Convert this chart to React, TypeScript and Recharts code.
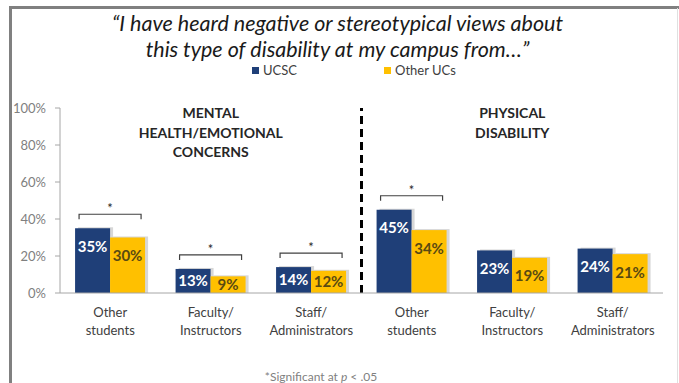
import React from 'react';
import { BarChart, Bar, XAxis, YAxis, ReferenceLine, LabelList, Legend } from 'recharts';

const FONT = 'Lato, "Open Sans", sans-serif';

const categoryIds = ['mh-students', 'mh-faculty', 'mh-staff', 'pd-students', 'pd-faculty', 'pd-staff'];
const categoryLabels = [
  'Other\nstudents',
  'Faculty/\nInstructors',
  'Staff/\nAdministrators',
  'Other\nstudents',
  'Faculty/\nInstructors',
  'Staff/\nAdministrators',
];
const ucscValues = [35, 13, 14, 45, 23, 24];
const otherUCsValues = [30, 9, 12, 34, 19, 21];
const significant = [true, true, true, true, false, false];
const yTicks = [0, 20, 40, 60, 80, 100];
const seriesNames = ['UCSC', 'Other UCs'];
const groupTitles = [
  { anchor: 'mh-faculty', lines: ['MENTAL', 'HEALTH/EMOTIONAL', 'CONCERNS'] },
  { anchor: 'pd-faculty', lines: ['PHYSICAL', 'DISABILITY'] },
];
const dividerAt = 'pd-students';
const titleLines = ['\u201CI have heard negative or stereotypical views about', 'this type of disability at my campus from\u2026\u201D'];

const NAVY = '#1f3f78';
const GOLD = '#ffc000';

const data = categoryIds.map((id, i) => ({
  id,
  ucsc: ucscValues[i],
  other: otherUCsValues[i],
}));

const CategoryTick = (props: any) => {
  const { x, y, payload } = props;
  const idx = categoryIds.indexOf(payload.value);
  const lines = (categoryLabels[idx] || '').split('\n');
  return (
    <text x={x} y={y} textAnchor="middle" fill="#404040" fontSize={13} fontFamily={FONT}>
      {lines.map((l, i) => (
        <tspan key={i} x={x} dy={i === 0 ? 22 : 18}>
          {l}
        </tspan>
      ))}
    </text>
  );
};

const ShadowBar = (props: any) => {
  const { x, y, width, height, fill } = props;
  if (height == null || width == null) return null;
  return (
    <g>
      <rect x={x + 3} y={y - 1} width={width} height={height + 1} fill="#bdbdbd" opacity={0.6} />
      <rect x={x} y={y} width={width} height={height} fill={fill} />
    </g>
  );
};

const makeValueLabel = (color: string) => (props: any) => {
  const { x, y, width, height, value } = props;
  if (value == null) return null;
  const cy = Math.min(y + 18, y + height / 2);
  return (
    <text
      x={x + width / 2}
      y={cy}
      dy="0.36em"
      textAnchor="middle"
      fill={color}
      fontSize={15}
      fontWeight="bold"
      fontFamily={FONT}
    >
      {`${value}%`}
    </text>
  );
};

const Bracket = (props: any) => {
  const { x, y, width, height, value, index } = props;
  if (!significant[index] || !value) return null;
  const base = y + height;
  const perUnit = height / value;
  const topVal = Math.max(ucscValues[index], otherUCsValues[index]);
  const topY = base - topVal * perUnit;
  const by = topY - 14;
  const x1 = x + 4;
  const x2 = x + 2 * width - 4;
  return (
    <g>
      <path d={`M${x1},${by + 5}V${by}H${x2}V${by + 5}`} stroke="#404040" strokeWidth={1.2} fill="none" />
      <text x={(x1 + x2) / 2} y={by - 1} textAnchor="middle" fontSize={13} fill="#262626" fontFamily={FONT}>
        *
      </text>
    </g>
  );
};

const GroupTitle = (lines: string[]) => (props: any) => {
  const vb = props.viewBox || {};
  const cx = vb.x;
  const top = vb.y;
  return (
    <text x={cx} y={top} textAnchor="middle" fontSize={14} fontWeight="bold" fill="#262626" fontFamily={FONT}>
      {lines.map((l, i) => (
        <tspan key={i} x={cx} dy={i === 0 ? 10 : 19.5}>
          {l}
        </tspan>
      ))}
    </text>
  );
};

const LegendContent = (props: any) => {
  const payload = [...(props.payload || [])].sort(
    (a: any, b: any) => seriesNames.indexOf(a.value) - seriesNames.indexOf(b.value)
  );
  const lefts = [252, 384];
  return (
    <div style={{ position: 'relative', height: 16, width: 679 }}>
      {payload.map((p: any, i: number) => (
        <div
          key={i}
          style={{
            position: 'absolute',
            left: lefts[i],
            top: 0,
            display: 'flex',
            alignItems: 'center',
            fontFamily: FONT,
            fontSize: 13,
            color: '#404040',
            lineHeight: '16px',
          }}
        >
          <span style={{ display: 'inline-block', width: 7, height: 7, background: p.color, marginRight: 4 }} />
          {p.value}
        </div>
      ))}
    </div>
  );
};

export default function App() {
  return (
    <div style={{ position: 'absolute', left: 0, top: 0, width: 679, height: 383, background: '#fff', overflow: 'hidden' }}>
      <div
        style={{
          position: 'absolute',
          left: 9,
          top: 6,
          width: 700,
          height: 420,
          borderTop: '3px solid #808080',
          borderLeft: '3px solid #808080',
        }}
      />
      <div style={{ position: 'absolute', left: 677, top: 8, width: 1, height: 380, background: '#e0e0e0' }} />
      <div
        style={{
          position: 'absolute',
          left: 0,
          top: 10,
          width: 675,
          textAlign: 'center',
          fontFamily: FONT,
          fontStyle: 'italic',
          fontSize: 21.5,
          lineHeight: '26px',
          color: '#1a1a1a',
        }}
      >
        {titleLines.map((l, i) => (
          <div key={i}>{l}</div>
        ))}
      </div>
      <div style={{ position: 'absolute', left: 0, top: 0 }}>
        <BarChart
          width={679}
          height={383}
          data={data}
          margin={{ top: 108, right: 16, bottom: 30, left: 0 }}
          barCategoryGap="15%"
          barGap={0}
        >
          <Legend
            verticalAlign="middle"
            layout="horizontal"
            wrapperStyle={{ top: 62, left: 0, width: 679 }}
            content={<LegendContent />}
          />
          <XAxis
            dataKey="id"
            interval={0}
            tickLine={false}
            tickSize={0}
            axisLine={{ stroke: '#a6a6a6' }}
            tick={<CategoryTick />}
            height={60}
          />
          <YAxis
            domain={[0, 100]}
            ticks={yTicks}
            tickFormatter={(v: number) => `${v}%`}
            width={60}
            axisLine={{ stroke: '#a6a6a6' }}
            tickLine={{ stroke: '#a6a6a6' }}
            tickSize={5}
            tickMargin={9}
            tick={{ fill: '#808080', fontSize: 13, fontFamily: FONT }}
          />
          {groupTitles.map((g) => (
            <ReferenceLine key={g.anchor} x={g.anchor} stroke="none" label={GroupTitle(g.lines)} />
          ))}
          <ReferenceLine x={dividerAt} position="start" stroke="#000" strokeWidth={3} strokeDasharray="8 5" />
          <Bar dataKey="ucsc" name={seriesNames[0]} fill={NAVY} isAnimationActive={false} shape={<ShadowBar />}>
            <LabelList dataKey="ucsc" content={makeValueLabel('#ffffff')} />
            <LabelList dataKey="ucsc" content={<Bracket />} />
          </Bar>
          <Bar dataKey="other" name={seriesNames[1]} fill={GOLD} isAnimationActive={false} shape={<ShadowBar />}>
            <LabelList dataKey="other" content={makeValueLabel('#594a12')} />
          </Bar>
        </BarChart>
      </div>
      <div
        style={{
          position: 'absolute',
          left: 0,
          top: 369,
          width: 642,
          textAlign: 'center',
          fontFamily: FONT,
          fontSize: 12,
          color: '#7f7f7f',
          lineHeight: '16px',
        }}
      >
        *Significant at <i>p</i> &lt; .05
      </div>
    </div>
  );
}
